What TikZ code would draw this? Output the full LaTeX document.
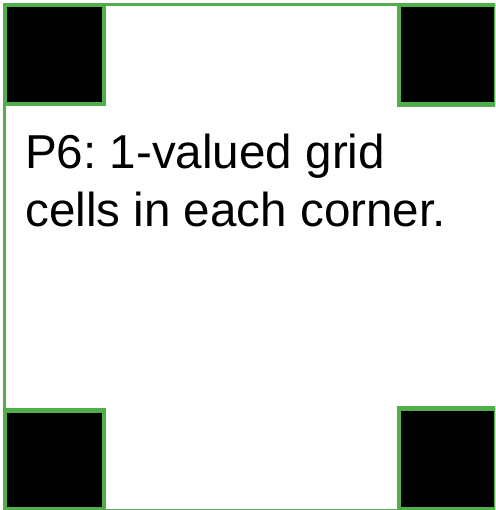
\documentclass[tikz,border=0pt]{standalone}
\usepackage{fontspec}
\setmainfont{Liberation Sans}
\definecolor{cellgreen}{RGB}{80,175,75}
\frenchspacing
\begin{document}
\begin{tikzpicture}[x=1pt,y=1pt,
  frame/.style={draw=cellgreen,line width=3pt},
  cell/.style={draw=cellgreen,fill=black,line width=4.5pt},
  txt/.style={inner sep=0pt,anchor=base west,font=\fontsize{47.6}{58}\selectfont}]
\useasboundingbox (0,0) rectangle (495,510);
\clip (0,0) rectangle (495,510);
\draw[frame] (4,505.5) rectangle (497,-0.5);
\draw[cell] (5,505) rectangle (104,406);
\draw[cell] (399,505) rectangle (496,405.5);
\draw[cell] (5,99.5) rectangle (104,1);
\draw[cell] (399,101.5) rectangle (496,1);
\node[txt] (l1) at (25,341) {P6: 1-valued grid};
\node[txt] (l2) at (25,283) {cells in each corner.};
\end{tikzpicture}
\end{document}
